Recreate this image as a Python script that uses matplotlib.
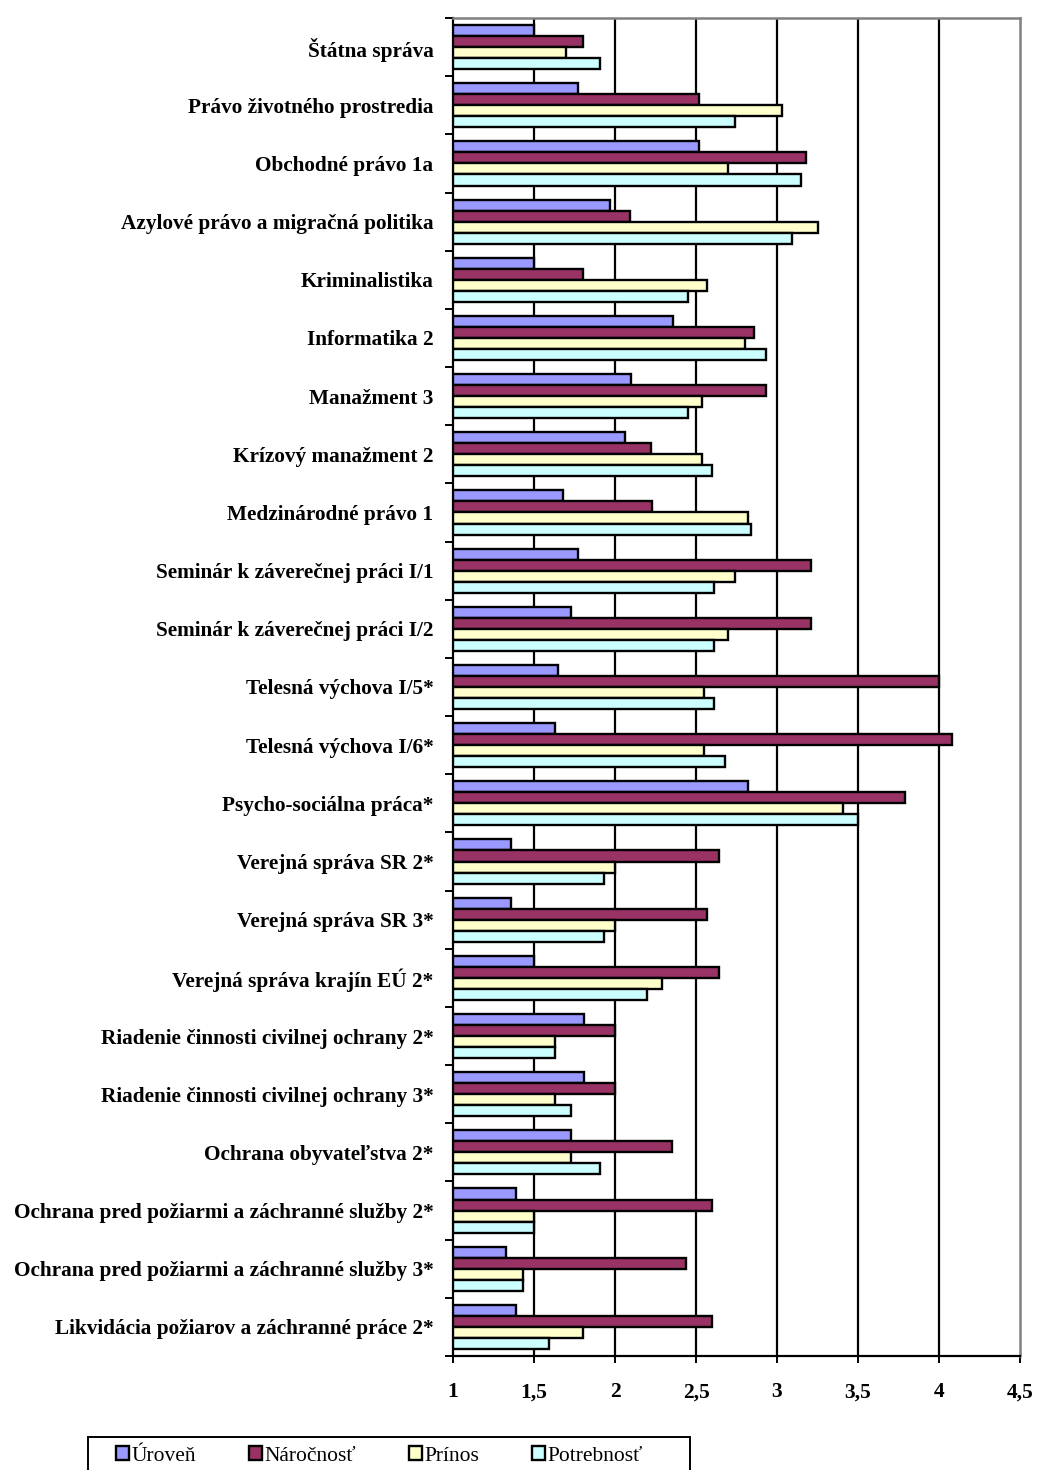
import numpy as np
import matplotlib.pyplot as plt
from matplotlib.patches import Patch, Rectangle

categories = [
    "Štátna správa",
    "Právo životného prostredia",
    "Obchodné právo 1a",
    "Azylové právo a migračná politika",
    "Kriminalistika",
    "Informatika 2",
    "Manažment 3",
    "Krízový manažment 2",
    "Medzinárodné právo 1",
    "Seminár k záverečnej práci I/1",
    "Seminár k záverečnej práci I/2",
    "Telesná výchova I/5*",
    "Telesná výchova I/6*",
    "Psycho-sociálna práca*",
    "Verejná správa SR 2*",
    "Verejná správa SR 3*",
    "Verejná správa krajín EÚ 2*",
    "Riadenie činnosti civilnej ochrany 2*",
    "Riadenie činnosti civilnej ochrany 3*",
    "Ochrana obyvateľstva 2*",
    "Ochrana pred požiarmi a záchranné služby 2*",
    "Ochrana pred požiarmi a záchranné služby 3*",
    "Likvidácia požiarov a záchranné práce 2*",
]

uroven = [1.5, 1.77, 2.52, 1.97, 1.5, 2.36, 2.10, 2.06, 1.68, 1.77, 1.73, 1.65,
          1.63, 2.82, 1.36, 1.36, 1.5, 1.81, 1.81, 1.73, 1.39, 1.33, 1.39]
narocnost = [1.80, 2.52, 3.18, 2.09, 1.80, 2.86, 2.93, 2.22, 2.23, 3.21, 3.21, 4.0,
             4.08, 3.79, 2.64, 2.57, 2.64, 2.0, 2.0, 2.35, 2.60, 2.44, 2.60]
prinos = [1.70, 3.03, 2.70, 3.25, 2.57, 2.80, 2.54, 2.54, 2.82, 2.74, 2.70, 2.55,
          2.55, 3.41, 2.0, 2.0, 2.29, 1.63, 1.63, 1.73, 1.5, 1.43, 1.80]
potrebnost = [1.91, 2.74, 3.15, 3.09, 2.45, 2.93, 2.45, 2.60, 2.84, 2.61, 2.61, 2.61,
              2.68, 3.50, 1.93, 1.93, 2.20, 1.63, 1.73, 1.91, 1.5, 1.43, 1.59]

series = [("Úroveň", uroven, "#9999FF"),
          ("Náročnosť", narocnost, "#993366"),
          ("Prínos", prinos, "#FFFFCC"),
          ("Potrebnosť", potrebnost, "#CCFFFF")]

xticks = [1, 1.5, 2, 2.5, 3, 3.5, 4, 4.5]
xticklabels = ["1", "1,5", "2", "2,5", "3", "3,5", "4", "4,5"]

plt.rcParams['font.family'] = ['Liberation Serif', 'DejaVu Serif']

W, H = 1039, 1470
fig = plt.figure(figsize=(W / 100, H / 100), dpi=100)
ax = fig.add_axes([453 / W, 1 - 1356 / H, (1020 - 453) / W, (1356 - 18) / H])

n = len(categories)
y = np.arange(n)
bh = 0.19
for k, (name, vals, col) in enumerate(series):
    off = (k - 1.5) * bh
    ax.barh(y + off, np.array(vals) - 1, left=1, height=bh, color=col,
            edgecolor="black", linewidth=1.7, zorder=3)

ax.set_xlim(1, 4.5)
ax.set_ylim(n - 0.5, -0.5)

ax.set_xticks(xticks)
ax.set_xticklabels(xticklabels, fontsize=15.5, fontweight="bold")
ax.tick_params(axis="x", direction="out", length=5, width=1.4, pad=14)

ax.set_yticks(np.arange(n + 1) - 0.5)
ax.set_yticklabels([])
ax.set_yticks(y, minor=True)
ax.set_yticklabels(categories, minor=True, fontsize=15.3, fontweight="bold")
ax.tick_params(axis="y", which="major", direction="out", length=6, width=1.4)
ax.tick_params(axis="y", which="minor", length=0, pad=14)

for v in xticks[1:-1]:
    ax.axvline(v, color="black", linewidth=1.6, zorder=1)

ax.spines["left"].set_linewidth(1.6)
ax.spines["bottom"].set_linewidth(1.6)
for s in ("top", "right"):
    ax.spines[s].set_color("#808080")
    ax.spines[s].set_linewidth(1.8)

# legend frame drawn separately, runs off the bottom edge like the original
fig.patches.append(Rectangle((88 / W, -0.01), (690 - 88) / W, 0.01 + (1470 - 1437) / H,
                             transform=fig.transFigure, facecolor="white",
                             edgecolor="black", linewidth=1.4))
handles = [Patch(facecolor=c, edgecolor="black", linewidth=1.7, label=nm)
           for nm, _, c in series]
leg = fig.legend(handles=handles, loc="center left", ncol=4,
                 bbox_to_anchor=(116 / W, 1 - 1456 / H),
                 frameon=False, fontsize=15.5,
                 handlelength=0.62, handleheight=0.62, handletextpad=0.1,
                 columnspacing=2.45, borderpad=0, borderaxespad=0)

fig.savefig("out.png", dpi=100)
